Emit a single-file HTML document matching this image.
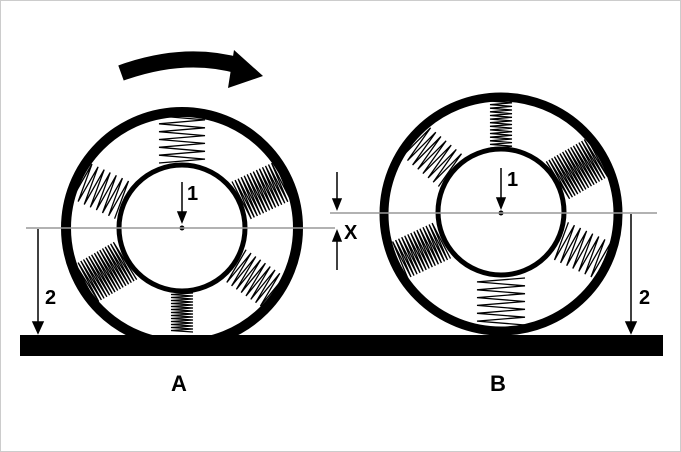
<!DOCTYPE html>
<html><head><meta charset="utf-8"><style>
html,body{margin:0;padding:0;background:#fff}
svg{display:block}
text{font-family:"Liberation Sans",sans-serif;font-weight:bold}
</style></head><body>
<svg id="s" width="681" height="452" viewBox="0 0 681 452" xmlns="http://www.w3.org/2000/svg">
<rect x="0.5" y="0.5" width="680" height="451" fill="#fff" stroke="#ccc"/>
<g id="springs" stroke="#000" stroke-width="1.3" fill="none"></g>
<!-- wheel A -->
<circle cx="182" cy="228" r="116" fill="none" stroke="#000" stroke-width="10"/>
<circle cx="182" cy="228" r="63" fill="none" stroke="#000" stroke-width="5"/>
<circle cx="182" cy="228" r="2.5" fill="#000"/>
<!-- wheel B -->
<circle cx="501" cy="214" r="117" fill="none" stroke="#000" stroke-width="9"/>
<circle cx="501" cy="212" r="63" fill="none" stroke="#000" stroke-width="5"/>
<circle cx="501" cy="213" r="2.5" fill="#000"/>
<!-- ground -->
<rect x="20" y="335" width="643" height="21" fill="#000"/>
<!-- gray lines -->
<line x1="26" y1="228" x2="335" y2="228" stroke="#999" stroke-width="1.5"/>
<line x1="330" y1="213" x2="657" y2="213" stroke="#999" stroke-width="1.5"/>
<!-- arrows -->
<g stroke="#000" stroke-width="1.5" fill="#000">
<line x1="38" y1="229" x2="38" y2="324"/><path d="M33,322 L43,322 L38,333 Z"/>
<line x1="631" y1="214" x2="631" y2="324"/><path d="M626,322 L636,322 L631,333 Z"/>
<line x1="182" y1="182" x2="182" y2="214"/><path d="M178,212 L186,212 L182,222 Z"/>
<line x1="501" y1="168" x2="501" y2="200"/><path d="M497,198 L505,198 L501,208 Z"/>
<line x1="337" y1="172" x2="337" y2="200"/><path d="M333,199 L341,199 L337,209 Z"/>
<line x1="337" y1="270" x2="337" y2="240"/><path d="M333,241 L341,241 L337,231 Z"/>
</g>
<line x1="333" y1="213" x2="342" y2="213" stroke="#999" stroke-width="1"/>
<!-- rotation arrow -->
<path d="M121,73 Q185,50 240,66" fill="none" stroke="#000" stroke-width="16"/>
<path d="M234,50 L263,76 L228,88 Z" fill="#000"/>
<text x="187" y="200" font-size="20">1</text>
<text x="507" y="186" font-size="20">1</text>
<text x="45" y="304" font-size="20">2</text>
<text x="639" y="304" font-size="20">2</text>
<text x="344" y="239" font-size="20">X</text>
<text x="171" y="391" font-size="22">A</text>
<text x="490" y="391" font-size="22">B</text>
</svg>
<script>
var g=document.getElementById('springs'),ns='http://www.w3.org/2000/svg';
function spring(cx,cy,ang,n,hw,r1,r2){
 var a=ang*Math.PI/180,c=Math.cos(a),s=Math.sin(a),pts=[];
 for(var i=0;i<=n;i++){var x=r1+(r2-r1)*i/n,y=(i%2?hw:-hw);
  pts.push((cx+x*c-y*s).toFixed(1)+','+(cy+x*s+y*c).toFixed(1));}
 var p=document.createElementNS(ns,'polyline');p.setAttribute('points',pts.join(' '));g.appendChild(p);
}
spring(182,228,-90,12,23,65,112);
spring(182,228,-25,28,21,65,112);
spring(182,228,-155,14,20,65,112);
spring(182,228,150,30,22,65,112);
spring(182,228,35,16,19,65,112);
spring(182,228,90,26,11,65,104);
spring(501,213,-90,26,11,65,112);
spring(501,213,-30,30,22,65,112);
spring(501,213,-140,14,20,65,112);
spring(501,213,155,28,20,65,112);
spring(501,213,25,14,20,65,112);
spring(501,213,90,12,24,65,112);
</script>
</body></html>
